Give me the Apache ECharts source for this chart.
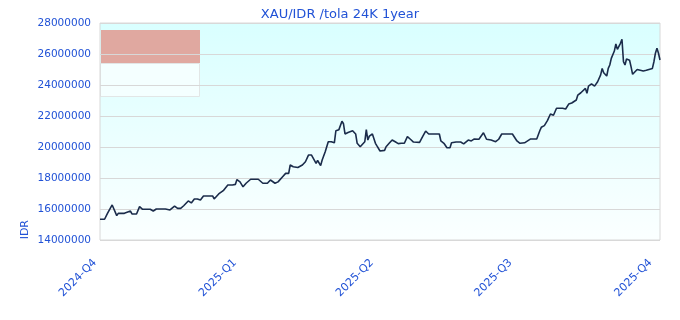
<!DOCTYPE html>
<html>
<head>
<meta charset="utf-8">
<script src="https://cdn.jsdelivr.net/npm/echarts@6/dist/echarts.min.js"></script>
<style>html,body{margin:0;padding:0;background:#fff;}#c{width:680px;height:320px;}</style>
</head>
<body>
<div id="c"></div>
<script>
var titleText = 'XAU/IDR /tola 24K 1year';
var yAxisName = 'IDR';
var quarterDates = ['2024-10-01','2025-01-01','2025-04-01','2025-07-01','2025-10-01'];
var quarterLabels = ['2024-Q4','2025-Q1','2025-Q2','2025-Q3','2025-Q4'];
var xMin = '2024-10-01';
var xMax = '2025-10-04';
var yMin = 14000000, yMax = 28000000, yStep = 2000000;

var dates = [
'2024-10-01','2024-10-04','2024-10-06','2024-10-09','2024-10-10','2024-10-12','2024-10-13','2024-10-17','2024-10-21','2024-10-22',
'2024-10-25','2024-10-27','2024-10-29','2024-11-03','2024-11-05','2024-11-07','2024-11-13','2024-11-16','2024-11-19','2024-11-21',
'2024-11-23','2024-11-25','2024-11-28','2024-11-30','2024-12-02','2024-12-04','2024-12-06','2024-12-08','2024-12-14','2024-12-15',
'2024-12-18','2024-12-19','2024-12-21','2024-12-22','2024-12-24','2024-12-27','2024-12-29','2024-12-30','2024-12-31','2025-01-01',
'2025-01-03','2025-01-05','2025-01-08','2025-01-13','2025-01-14','2025-01-16','2025-01-19','2025-01-21','2025-01-24','2025-01-26',
'2025-01-29','2025-01-31','2025-02-02','2025-02-03','2025-02-04','2025-02-05','2025-02-08','2025-02-11','2025-02-13','2025-02-15',
'2025-02-17','2025-02-18','2025-02-20','2025-02-21','2025-02-23','2025-02-24','2025-02-26','2025-02-28','2025-03-02','2025-03-04',
'2025-03-05','2025-03-07','2025-03-08','2025-03-09','2025-03-10','2025-03-11','2025-03-13','2025-03-14','2025-03-16','2025-03-18',
'2025-03-19','2025-03-21','2025-03-22','2025-03-24','2025-03-25','2025-03-26','2025-03-27','2025-03-29','2025-03-31','2025-04-01',
'2025-04-03','2025-04-04','2025-04-06','2025-04-07','2025-04-09','2025-04-11','2025-04-13','2025-04-15','2025-04-17','2025-04-19',
'2025-04-21','2025-04-23','2025-04-25','2025-04-29','2025-05-01','2025-05-03','2025-05-04','2025-05-05','2025-05-10','2025-05-12',
'2025-05-13','2025-05-15','2025-05-17','2025-05-19','2025-05-20','2025-05-23','2025-05-26','2025-05-28','2025-05-31','2025-06-02',
'2025-06-04','2025-06-07','2025-06-10','2025-06-12','2025-06-15','2025-06-18','2025-06-20','2025-06-22','2025-06-29','2025-06-30',
'2025-07-02','2025-07-04','2025-07-07','2025-07-11','2025-07-15','2025-07-17','2025-07-18','2025-07-20','2025-07-22','2025-07-24',
'2025-07-26','2025-07-28','2025-08-01','2025-08-03','2025-08-05','2025-08-07','2025-08-10','2025-08-11','2025-08-13','2025-08-14',
'2025-08-16','2025-08-17','2025-08-18','2025-08-20','2025-08-22','2025-08-24','2025-08-26','2025-08-27','2025-08-28','2025-08-30',
'2025-08-31','2025-09-01','2025-09-02','2025-09-04','2025-09-05','2025-09-06','2025-09-07','2025-09-08','2025-09-09','2025-09-10',
'2025-09-11','2025-09-12','2025-09-14','2025-09-15','2025-09-16','2025-09-19','2025-09-21','2025-09-23','2025-09-24','2025-09-25',
'2025-09-29','2025-09-30','2025-10-01','2025-10-02','2025-10-03','2025-10-04'
];
var prices = [
15.34,15.34,15.74,16.26,16.26,15.57,15.72,15.72,15.87,15.68,
15.68,16.15,15.98,15.98,15.87,16.00,16.00,15.94,16.19,16.04,
16.04,16.21,16.52,16.39,16.65,16.65,16.58,16.84,16.84,16.65,
16.97,16.97,17.18,17.18,17.55,17.55,17.59,17.90,17.90,17.75,
17.43,17.66,17.92,17.92,17.81,17.66,17.66,17.87,17.66,17.75,
18.08,18.30,18.30,18.84,18.84,18.73,18.68,18.84,19.05,19.48,
19.48,19.60,18.95,19.13,18.80,19.16,19.70,20.34,20.34,20.27,
21.05,21.12,21.12,21.66,21.50,20.84,20.94,20.90,21.05,20.84,
20.24,20.02,20.02,20.34,21.12,20.45,20.70,20.84,20.24,20.07,
19.74,19.74,19.78,20.02,20.24,20.45,20.34,20.22,20.24,20.24,
20.67,20.50,20.32,20.30,20.67,21.03,21.03,20.84,20.84,20.84,
20.39,20.24,19.95,19.95,20.27,20.32,20.32,20.20,20.45,20.39,
20.52,20.50,20.92,20.50,20.45,20.34,20.50,20.84,20.84,20.80,
20.39,20.24,20.27,20.52,20.52,21.05,21.27,21.38,21.70,22.13,
22.05,22.50,22.50,22.45,22.77,22.84,23.03,23.35,23.50,23.61,
23.78,23.46,23.93,24.07,23.93,24.21,24.65,25.07,24.79,24.58,
25.07,25.29,25.72,26.19,26.65,26.30,26.37,26.69,26.95,25.50,
25.29,25.68,25.60,25.17,24.69,25.00,24.95,24.90,24.79,24.95,
25.07,25.50,26.05,26.37,26.05,25.61
];

function ts(s) { var p = s.split('-'); return Date.UTC(+p[0], +p[1] - 1, +p[2]); }
var quarterTs = quarterDates.map(ts);
var seriesData = dates.map(function (d, i) { return [ts(d), Math.round(prices[i] * 1000000)]; });

var blue = '#2152d6';
var chart = echarts.init(document.getElementById('c'), null, { renderer: 'canvas' });
chart.setOption({
  animation: false,
  backgroundColor: '#ffffff',
  title: {
    text: titleText, left: 'center', top: 3,
    textStyle: { fontFamily: 'DejaVu Sans', fontSize: 13, fontWeight: 'normal', color: blue }
  },
  grid: { left: 100, right: 20, top: 23, bottom: 80, show: true, backgroundColor: 'transparent', borderColor: '#d8d8d8', borderWidth: 1 },
  graphic: [
    { type: 'rect', z: -3, silent: true, shape: { x: 100, y: 23, width: 560, height: 217 },
      style: { fill: new echarts.graphic.LinearGradient(0, 0, 0, 1, [{ offset: 0, color: '#d9ffff' }, { offset: 1, color: '#fbffff' }]) } },
    { type: 'rect', z: -2, silent: true, shape: { x: 100.5, y: 63.5, width: 99, height: 33 },
      style: { fill: '#f4ffff', stroke: '#e2e6e6', lineWidth: 1 } },
    { type: 'rect', z: -1, silent: true, shape: { x: 101, y: 30, width: 99, height: 33 },
      style: { fill: '#e0a8a0' } },
    { type: 'text', z: 5, silent: true, left: 20, top: 220, rotation: Math.PI / 2,
      style: { text: yAxisName, fill: blue, font: '11px "DejaVu Sans"' } }
  ],
  xAxis: {
    type: 'value', min: ts(xMin), max: ts(xMax),
    axisLine: { show: false }, axisTick: { show: false }, splitLine: { show: false },
    axisLabel: {
      customValues: quarterTs, rotate: 45, margin: 16, padding: [0, 7, 0, 0], color: blue,
      fontFamily: 'DejaVu Sans', fontSize: 11,
      formatter: function (v) {
        var i = quarterTs.indexOf(v);
        return i >= 0 ? quarterLabels[i] : '';
      }
    }
  },
  yAxis: {
    type: 'value', min: yMin, max: yMax, interval: yStep,
    axisLine: { show: false }, axisTick: { show: false },
    splitLine: { show: true, lineStyle: { color: '#d8d8d8', width: 1 } },
    axisLabel: { color: blue, fontFamily: 'DejaVu Sans', fontSize: 10.5, margin: 9, formatter: function (v) { return String(v); } }
  },
  series: [{
    type: 'line', data: seriesData, showSymbol: false, symbol: 'none',
    lineStyle: { color: '#1b2c4b', width: 1.6 }, z: 3
  }]
});
</script>
</body>
</html>
